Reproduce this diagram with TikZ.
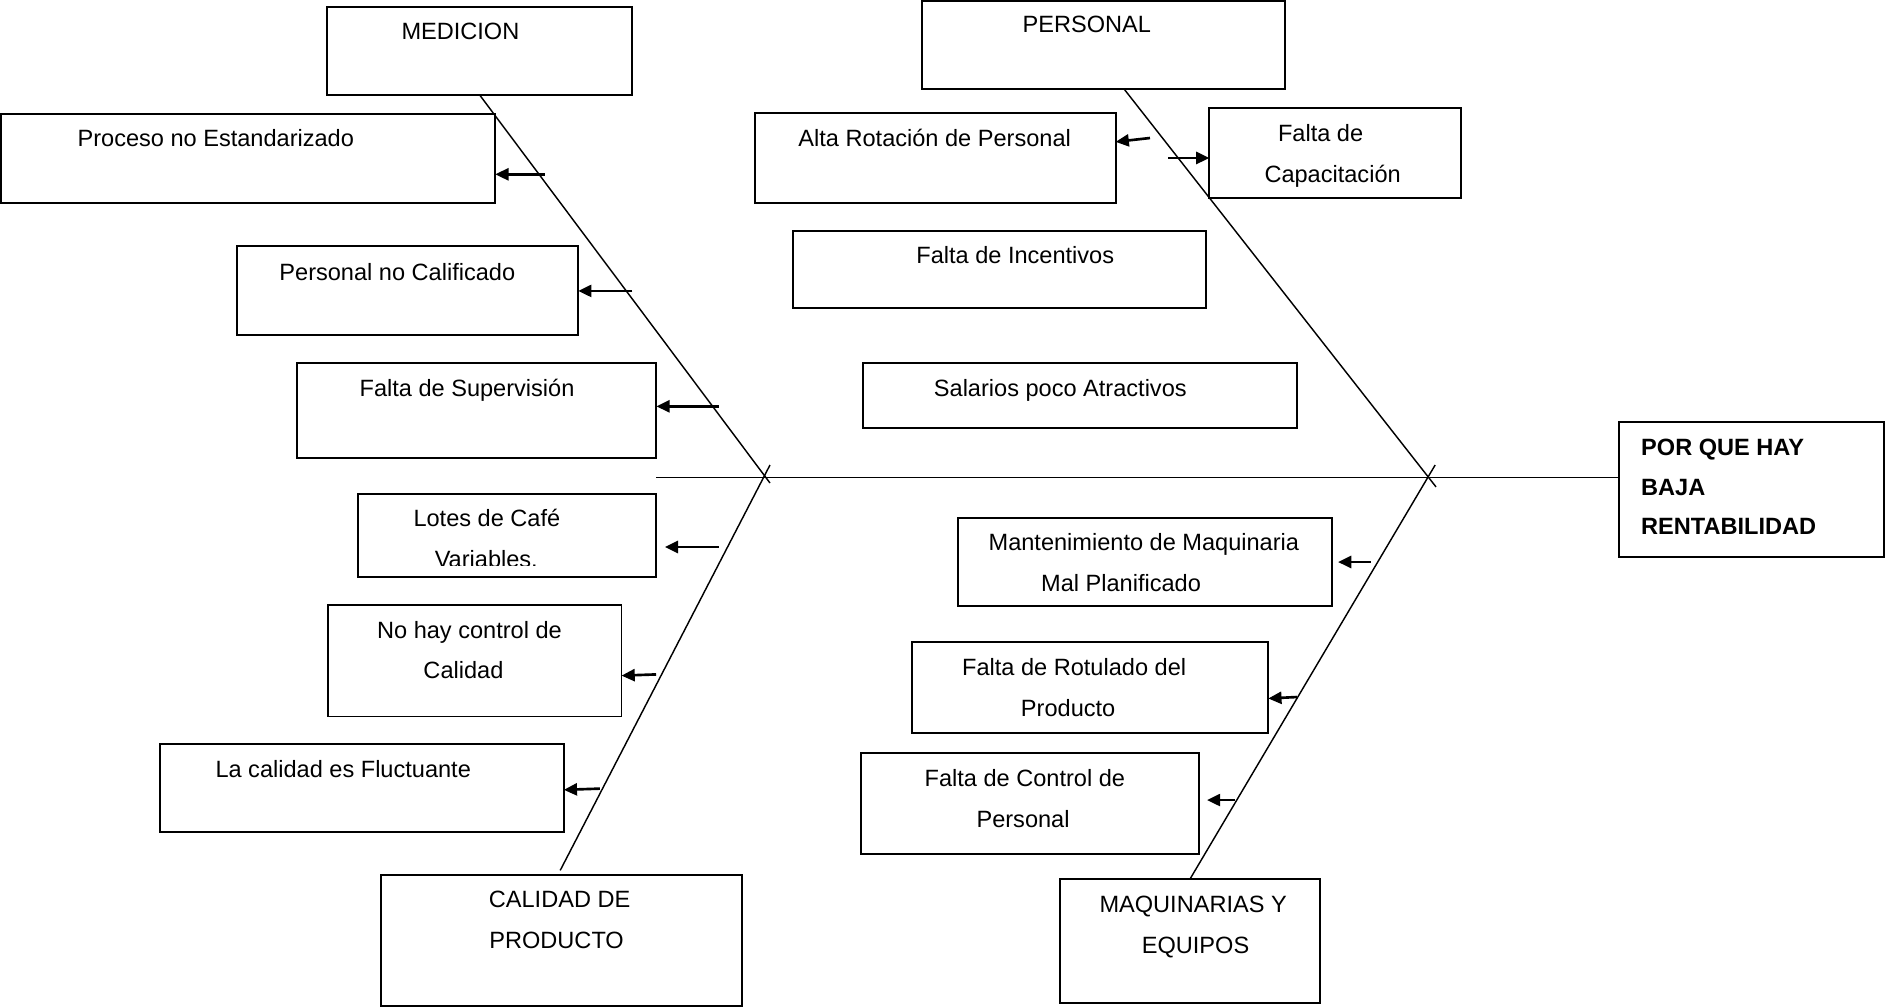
\documentclass[tikz,border=0pt]{standalone}
\usepackage{fontspec}
\setmainfont{Liberation Sans}
\usetikzlibrary{arrows.meta,fit}
\begin{document}
\begin{tikzpicture}[x=1pt,y=-1pt,
  box/.style={draw, line width=1.6pt, inner sep=0pt, outer sep=0pt},
  lbl/.style={font=\fontsize{19.6}{23}\selectfont, anchor=base, inner sep=0pt},
  hlbl/.style={font=\fontsize{19.6}{23}\selectfont\bfseries, anchor=base west, inner sep=0pt},
  bone/.style={line width=1.2pt},
  cause/.style={line width=2.2pt, -{Triangle[length=11pt,width=10pt]}},
]
\useasboundingbox (0,0) rectangle (1568,838);

% ---- category boxes ----
\node[box, fit={(272,6) (526,79)}]      (med) {};
\node[box, fit={(767,0.8) (1069,74)}]   (per) {};
\node[box, fit={(317,728) (617,837)}]   (cal) {};
\node[box, fit={(882,731) (1098,834)}]  (maq) {};
\node[box, fit={(1347,351) (1567,463)}] (head) {};

% ---- cause boxes ----
\node[box, fit={(1,95) (412,169)}]      (p1) {};
\node[box, fit={(197,205) (481,279)}]   (p2) {};
\node[box, fit={(247,302) (546,381)}]   (p3) {};
\node[box, fit={(628,94) (928,169)}]    (r1) {};
\node[box, fit={(1006,90) (1215,165)}]  (r2) {};
\node[box, fit={(660,192) (1003,256)}]  (r3) {};
\node[box, fit={(718,302) (1079,356)}]  (r4) {};
\node[box, fit={(298,411) (546,480)}]   (c1) {};
\node[box, fit={(273,503) (517,596)}]   (c2) {};
\node[box, fit={(133,619) (469,692)}]   (c3) {};
\node[box, fit={(797,431) (1108,504)}]  (m1) {};
\node[box, fit={(759,534) (1055,610)}]  (m2) {};
\node[box, fit={(716,626) (997,710)}]   (m3) {};

% ---- texts ----
\node[lbl] (medt) at (383,33) {MEDICION};
\node[lbl] (pert) at (904,27) {PERSONAL};
\node[lbl] (calt1) at (465.5,755) {CALIDAD DE};
\node[lbl] (calt2) at (463,789) {PRODUCTO};
\node[lbl] (maqt1) at (992.5,759) {MAQUINARIAS Y};
\node[lbl] (maqt2) at (994.5,793) {EQUIPOS};
\node[hlbl] (headt1) at (1365,379) {POR QUE HAY};
\node[hlbl] (headt2) at (1365,412) {BAJA};
\node[hlbl] (headt3) at (1365,445) {RENTABILIDAD};

\node[lbl] (p1t) at (179.5,122) {Proceso no Estandarizado};
\node[lbl] (p2t) at (330.5,233) {Personal no Calificado};
\node[lbl] (p3t) at (388.5,330) {Falta de Supervisión};
\node[lbl] (r1t) at (777.5,122) {Alta Rotación de Personal};
\node[lbl] (r2t1) at (1098.5,118) {Falta de};
\node[lbl] (r2t2) at (1108.5,152) {Capacitación};
\node[lbl] (r3t) at (844.5,219) {Falta de Incentivos};
\node[lbl] (r4t) at (882,330) {Salarios poco Atractivos};
\node[lbl] (c1t1) at (405,438) {Lotes de Café};
\begin{scope}
  \clip (298,411) rectangle (546,470.5);
  \node[lbl] (c1t2) at (404.5,472) {Variables.};
\end{scope}
\node[lbl] (c2t1) at (390.5,531) {No hay control de};
\node[lbl] (c2t2) at (385.5,564) {Calidad};
\node[lbl] (c3t) at (285.5,647) {La calidad es Fluctuante};
\node[lbl] (m1t1) at (951.5,458) {Mantenimiento de Maquinaria};
\node[lbl] (m1t2) at (932.5,492) {Mal Planificado};
\node[lbl] (m2t1) at (893.5,562) {Falta de Rotulado del};
\node[lbl] (m2t2) at (888.5,596) {Producto};
\node[lbl] (m3t1) at (852.5,654) {Falta de Control de};
\node[lbl] (m3t2) at (851,688) {Personal};

% ---- spine and bones ----
\coordinate (s0) at (546,397);
\coordinate (medend) at (640.5,401.8);
\coordinate (calend) at (640.5,386.8);
\coordinate (calfoot) at (466,724);
\coordinate (perfoot) at (935,74);
\coordinate (perend) at (1194.5,405);
\coordinate (maqend) at (1193.8,386.8);
\draw[bone] (s0) -- (s0 -| head.west);
\draw[bone] (med.south) -- (medend);
\draw[bone] (perfoot) -- (perend);
\draw[bone] (calfoot) -- (calend);
\draw[bone] (maq.north) -- (maqend);

% ---- cause arrows ----
\coordinate (t1) at (453,145);
\coordinate (t2) at (526,242);
\coordinate (t3) at (598,338);
\coordinate (t4) at (956.6,114.8);
\coordinate (t5) at (971.6,131.4);
\coordinate (t6) at (598,455);
\coordinate (t7) at (545.7,561);
\coordinate (t8) at (499,656);
\coordinate (t9) at (1140.4,467.5);
\coordinate (t10) at (1078.7,579.8);
\coordinate (t11) at (1027,665.5);
\draw[cause] (t1) -- (t1 -| p1.east);
\draw[cause] (t2) -- (t2 -| p2.east);
\draw[cause] (t3) -- (t3 -| p3.east);
\draw[cause] (t4) -- (r1.east |- 0,118);
\draw[cause] (t5) -- (t5 -| r2.west);
\draw[cause, shorten >=7pt] (t6) -- (t6 -| c1.east);
\draw[cause] (t7) -- (c2.east |- 0,562);
\draw[cause] (t8) -- (c3.east |- 0,657);
\draw[cause, shorten >=5pt] (t9) -- (t9 -| m1.east);
\draw[cause] (t10) -- (m2.east |- 0,581);
\draw[cause, shorten >=7pt] (t11) -- (t11 -| m3.east);
\end{tikzpicture}
\end{document}
